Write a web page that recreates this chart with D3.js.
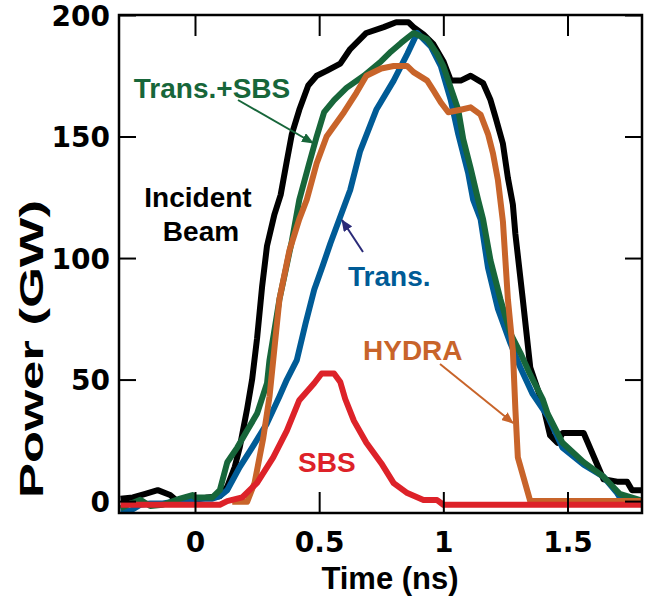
<!DOCTYPE html>
<html><head><meta charset="utf-8">
<script src="https://cdn.jsdelivr.net/npm/d3@7"></script>
<style>body{margin:0;background:#fff}svg{display:block}</style>
</head><body>
<svg id="c" width="655" height="596"></svg>
<script>
// ---- data (time in ns, power in GW) ----
const incidentT = [-0.3,-0.25,-0.2,-0.15,-0.1,-0.06,-0.02,0,0.05,0.1,0.13,0.16,0.18,0.21,0.23,0.25,0.27,0.29,0.32,0.345,0.37,0.39,0.42,0.456,0.49,0.53,0.585,0.625,0.69,0.76,0.81,0.86,0.88,0.92,0.96,1.0,1.03,1.07,1.11,1.16,1.19,1.21,1.24,1.26,1.28,1.29,1.32,1.35,1.40,1.43,1.46,1.48,1.565,1.645,1.70,1.74,1.76,1.8];
const incidentP = [1,1.5,3,4.5,2.5,-1,-1,0.5,1.5,2,6,14,22,38,50,67,88,105,118,126,140,151,161,171,175,177,180,186,192.6,195,197,197,195,192,188,181,173,173,175,172,165,158,147,133,122,110,83,55,40,27,24,28,28,9,8,8,4.5,4.5];

const transSbsT = [-0.3,-0.27,-0.22,-0.18,-0.13,-0.06,-0.01,0,0.07,0.1,0.13,0.17,0.21,0.25,0.29,0.30,0.34,0.39,0.42,0.46,0.49,0.52,0.56,0.61,0.68,0.75,0.79,0.83,0.88,0.935,0.975,1.0,1.03,1.06,1.08,1.11,1.14,1.16,1.19,1.23,1.27,1.31,1.35,1.40,1.42,1.48,1.565,1.645,1.71,1.79,1.8];
const transSbsP = [-3,-1.5,0.5,-2,-1.5,1,2.5,1.5,1.5,4.5,16,22,29,36,48.5,58,83,107,124,139,150,160,165,170,175,181,185,188.5,192.6,190,184,179,170,161,149,137,124,116,99,83,69,61,52,42,36,24,16,10,3,0.5,0.3];

const transT = [-0.3,-0.26,-0.22,-0.18,-0.13,-0.07,0,0.07,0.1,0.13,0.18,0.23,0.29,0.34,0.37,0.41,0.445,0.48,0.515,0.545,0.585,0.625,0.665,0.73,0.8,0.855,0.895,0.95,0.99,1.03,1.06,1.10,1.12,1.15,1.18,1.22,1.27,1.31,1.36,1.42,1.48,1.565,1.645,1.70,1.72,1.8];
const transP = [-4,-4,-1.5,-1,-1,0,1,1,2,4.5,14,22,32,43,50,58,73,87,97,106,117,128,144,161,173,184,192.6,187,179,165,151,135,124,116,96,79,65,55,44,35,22,15,10,3.3,0,0];

const hydraT = [0.15,0.21,0.24,0.275,0.30,0.34,0.38,0.42,0.45,0.49,0.53,0.6,0.65,0.69,0.75,0.8,0.855,0.88,0.935,0.96,0.99,1.02,1.07,1.11,1.15,1.18,1.20,1.22,1.24,1.26,1.28,1.29,1.30,1.35,1.8];
const hydraP = [-0.3,-0.3,7.5,26,43,83,103,116,124,139,150,160,168,175,178,179,179,176.5,173,169,164,160,161,162,159,151,143,132,115,83,62,38,18,0,0];

const sbsT = [-0.3,0.1,0.13,0.19,0.25,0.315,0.37,0.42,0.48,0.51,0.56,0.585,0.605,0.64,0.69,0.75,0.8,0.855,0.92,0.975,1.0,1.8];
const sbsP = [-1.5,-1.5,0,1.5,7.5,18,29,41.5,48.5,52.5,52.5,49,42,33,24,15.6,7.4,3.3,0.4,0.4,-1.5,-1.5];

const xTicks = [0, 0.5, 1, 1.5];
const xTickLabels = ["0", "0.5", "1", "1.5"];
const yTicks = [0, 50, 100, 150, 200];
const yTickLabels = ["0", "50", "100", "150", "200"];

// ---- layout ----
const L = 119, R = 642, T = 15, B = 513;
const x = d3.scaleLinear().domain([-0.306, 1.8]).range([L, R]);
const y = d3.scaleLinear().domain([-4.9, 200]).range([B, T]);

const svg = d3.select("#c");
const ARIAL = "'Liberation Sans', Arial, Helvetica, sans-serif";
const TICKF = "'DejaVu Sans', sans-serif";

const defs = svg.append("defs");
function marker(id, color) {
  defs.append("marker").attr("id", id).attr("viewBox", "0 0 12 10")
    .attr("refX", 11).attr("refY", 5).attr("markerWidth", 12).attr("markerHeight", 10)
    .attr("markerUnits", "userSpaceOnUse").attr("orient", "auto")
    .append("path").attr("d", "M0,0 L12,5 L0,10 Z").attr("fill", color);
}
marker("mg", "#17663a"); marker("mb", "#2a2a78"); marker("mo", "#c8642a");

const line = d3.line().x(d => x(d[0])).y(d => y(d[1])).curve(d3.curveLinear);
const series = [
  {t: incidentT, p: incidentP, c: "#000000"},
  {t: transT, p: transP, c: "#005b96"},
  {t: transSbsT, p: transSbsP, c: "#17663a"},
  {t: hydraT, p: hydraP, c: "#c8642a"},
  {t: sbsT, p: sbsP, c: "#dd2229"}
];
svg.append("g").selectAll("path").data(series).join("path")
  .attr("d", s => line(s.t.map((t, i) => [t, s.p[i]])))
  .attr("fill", "none").attr("stroke", s => s.c).attr("stroke-width", 6)
  .attr("stroke-linejoin", "round");

// ---- axes (inward ticks on all four sides) ----
const gB = svg.append("g").attr("transform", `translate(0,${B})`)
  .call(d3.axisBottom(x).tickValues(xTicks).tickSizeInner(-21).tickSizeOuter(0).tickFormat((d, i) => xTickLabels[i]).tickPadding(0));
const gT = svg.append("g").attr("transform", `translate(0,${T})`)
  .call(d3.axisTop(x).tickValues(xTicks).tickSizeInner(-21).tickSizeOuter(0).tickFormat(""));
const gL = svg.append("g").attr("transform", `translate(${L},0)`)
  .call(d3.axisLeft(y).tickValues(yTicks).tickSizeInner(-17).tickSizeOuter(0).tickFormat((d, i) => yTickLabels[i]).tickPadding(0));
const gR = svg.append("g").attr("transform", `translate(${R},0)`)
  .call(d3.axisRight(y).tickValues(yTicks).tickSizeInner(-17).tickSizeOuter(0).tickFormat(""));
[gB, gT, gL, gR].forEach(g => {
  g.select(".domain").remove();
  g.selectAll(".tick line").attr("stroke", "#000").attr("stroke-width", 2);
});
gB.selectAll(".tick text").attr("y", 39).attr("dy", 0)
  .style("font-family", TICKF).style("font-weight", "bold").style("font-size", "28px").attr("fill", "#000");
gL.selectAll(".tick text").attr("x", -9).attr("dy", "0.36em")
  .style("font-family", TICKF).style("font-weight", "bold").style("font-size", "28px").attr("fill", "#000");

svg.append("rect").attr("x", L).attr("y", T).attr("width", R - L).attr("height", B - T)
  .attr("fill", "none").attr("stroke", "#000").attr("stroke-width", 2.5);

// ---- axis titles ----
svg.append("text").attr("x", 390).attr("y", 589).attr("text-anchor", "middle")
  .style("font-family", ARIAL).style("font-weight", "bold").style("font-size", "31px").text("Time (ns)");
svg.append("text").attr("transform", "translate(43,349) rotate(-90)").attr("text-anchor", "middle")
  .attr("textLength", 298).attr("lengthAdjust", "spacingAndGlyphs")
  .style("font-family", ARIAL).style("font-weight", "bold").style("font-size", "33px").text("Power (GW)");

// ---- annotations ----
const labels = [
  {text: "Trans.+SBS", x: 212, y: 98, c: "#17663a", a: "middle"},
  {text: "Incident", x: 198, y: 207, c: "#000", a: "middle"},
  {text: "Beam", x: 201, y: 241, c: "#000", a: "middle"},
  {text: "Trans.", x: 348, y: 286, c: "#005b96", a: "start"},
  {text: "HYDRA", x: 363, y: 360, c: "#c8642a", a: "start"},
  {text: "SBS", x: 298, y: 472, c: "#dd2229", a: "start"}
];
svg.append("g").selectAll("text").data(labels).join("text")
  .attr("x", d => d.x).attr("y", d => d.y).attr("text-anchor", d => d.a).attr("fill", d => d.c)
  .style("font-family", ARIAL).style("font-weight", "bold").style("font-size", "28px").text(d => d.text);

const arrows = [
  {x1: 238, y1: 100, x2: 313, y2: 143, c: "#17663a", m: "mg"},
  {x1: 363, y1: 252, x2: 342, y2: 220, c: "#2a2a78", m: "mb"},
  {x1: 440, y1: 364, x2: 513, y2: 423, c: "#c8642a", m: "mo"}
];
svg.append("g").selectAll("line").data(arrows).join("line")
  .attr("x1", d => d.x1).attr("y1", d => d.y1).attr("x2", d => d.x2).attr("y2", d => d.y2)
  .attr("stroke", d => d.c).attr("stroke-width", 2).attr("marker-end", d => `url(#${d.m})`);
</script>
</body></html>
